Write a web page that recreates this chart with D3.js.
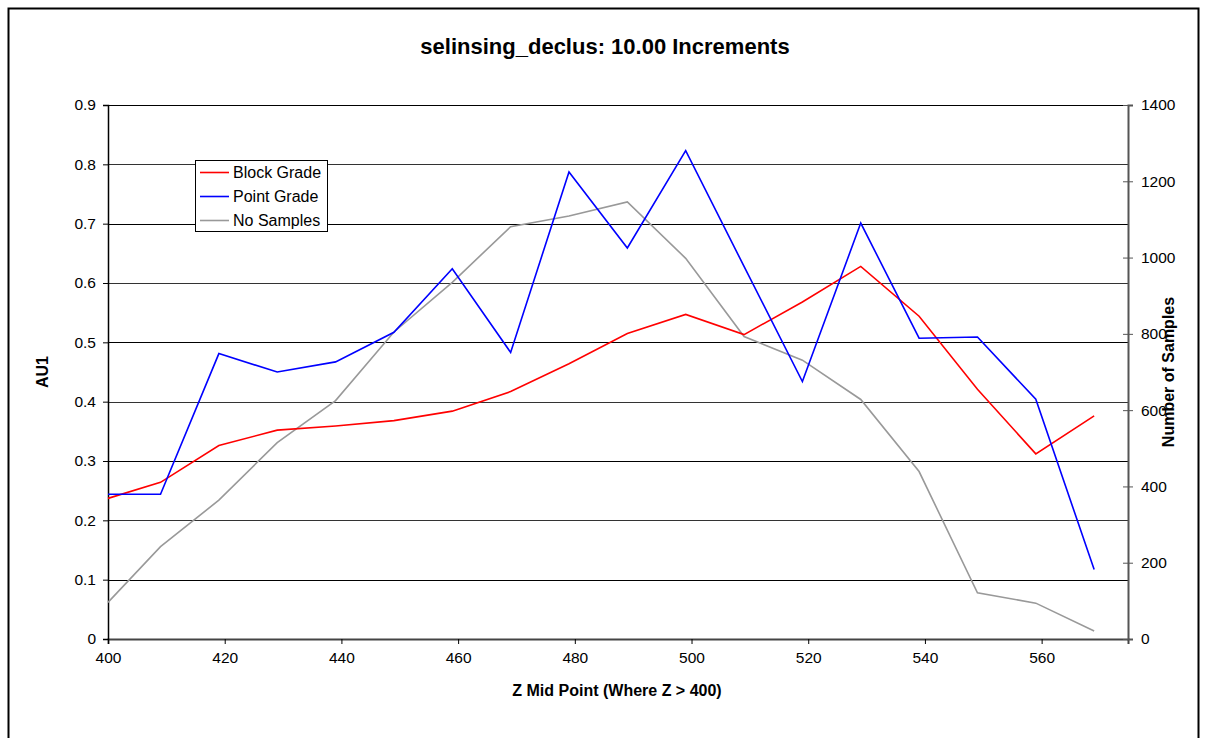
<!DOCTYPE html>
<html><head><meta charset="utf-8">
<script src="https://cdn.jsdelivr.net/npm/d3@7"></script>
<style>body{margin:0;background:#fff;font-family:Arial,"Liberation Sans",sans-serif;}</style>
</head><body>
<svg id="c" width="1207" height="738"></svg>
<script>
const zMid = [400,409,419,429,439,449,459,469,479,489,499,509,519,529,539,549,559,569];
const blockGrade = [0.237,0.264,0.326,0.352,0.359,0.368,0.384,0.417,0.464,0.515,0.547,0.513,0.568,0.628,0.544,0.421,0.312,0.376];
const pointGrade = [0.244,0.244,0.481,0.450,0.467,0.517,0.624,0.483,0.787,0.659,0.823,0.628,0.434,0.701,0.507,0.509,0.404,0.117];
const noSamples = [96,242,364,515,625,805,935,1081,1109,1146,998,793,731,628,439,121,94,21];
const xTicks = [400,420,440,460,480,500,520,540,560];
const yLeftTicks = [0,0.1,0.2,0.3,0.4,0.5,0.6,0.7,0.8,0.9];
const yRightTicks = [0,200,400,600,800,1000,1200,1400];
const seriesNames = ["Block Grade","Point Grade","No Samples"];
const seriesColors = ["#ff0000","#0000ff","#999999"];

const svg = d3.select("#c");
const L=108, R=1128, T=105, B=639;
const x = d3.scaleLinear().domain([400,574.8]).range([L,R]);
const yL = d3.scaleLinear().domain([0,0.9]).range([B,T]);
const yR = d3.scaleLinear().domain([0,1400]).range([B,T]);

// outer border
svg.append("rect").attr("x",8.5).attr("y",8.5).attr("width",1190).attr("height",760)
  .attr("fill","none").attr("stroke","#000").attr("stroke-width",2);

// title
svg.append("text").attr("x",605).attr("y",54).attr("text-anchor","middle")
  .attr("font-size",22).attr("font-weight","bold").text("selinsing_declus: 10.00 Increments");

// gridlines
svg.append("g").selectAll("line").data(yLeftTicks.slice(1)).join("line")
  .attr("x1",L).attr("x2",R).attr("y1",d=>Math.round(yL(d))+0.5).attr("y2",d=>Math.round(yL(d))+0.5)
  .attr("stroke",(d,i)=>i%2?"#333":"#000").attr("stroke-width",1);

// axes
const gx = svg.append("g").attr("transform",`translate(0,${B})`)
  .call(d3.axisBottom(x).tickValues(xTicks).tickSize(5).tickPadding(8).tickFormat(d3.format("d")));
const gl = svg.append("g").attr("transform",`translate(${L},0)`)
  .call(d3.axisLeft(yL).tickValues(yLeftTicks).tickSize(5).tickPadding(7).tickFormat(d=>d===0?"0":d3.format(".1f")(d)));
const gr = svg.append("g").attr("transform",`translate(${R},0)`)
  .call(d3.axisRight(yR).tickValues(yRightTicks).tickSize(5).tickPadding(8).tickFormat(d3.format("d")));
gr.selectAll(".tick line").attr("x1",-5);
[gx,gl,gr].forEach(g=>{
  g.selectAll("text").attr("font-size",15.5).attr("font-family","Arial,'Liberation Sans',sans-serif").attr("fill","#000");
  g.selectAll("line").attr("stroke","#000");
  g.select(".domain").attr("stroke","#000").attr("stroke-width",1.5);
});
gx.select(".domain").attr("stroke","#444").attr("stroke-width",2);
gr.select(".domain").attr("stroke","#555").attr("stroke-width",2);
gr.selectAll(".tick line").attr("stroke","#555");

// axis titles
svg.append("text").attr("x",617).attr("y",696).attr("text-anchor","middle")
  .attr("font-size",16).attr("font-weight","bold").text("Z Mid Point (Where Z > 400)");
svg.append("text").attr("transform","translate(48,372) rotate(-90)").attr("text-anchor","middle")
  .attr("font-size",16).attr("font-weight","bold").text("AU1");
svg.append("text").attr("transform","translate(1174,372) rotate(-90)").attr("text-anchor","middle")
  .attr("font-size",16).attr("font-weight","bold").text("Number of Samples");

// lines
const lineL = d3.line().x((d,i)=>x(zMid[i])).y(d=>yL(d));
const lineR = d3.line().x((d,i)=>x(zMid[i])).y(d=>yR(d));
svg.append("path").datum(noSamples).attr("d",lineR).attr("fill","none").attr("stroke",seriesColors[2]).attr("stroke-width",1.6);
svg.append("path").datum(blockGrade).attr("d",lineL).attr("fill","none").attr("stroke",seriesColors[0]).attr("stroke-width",1.6);
svg.append("path").datum(pointGrade).attr("d",lineL).attr("fill","none").attr("stroke",seriesColors[1]).attr("stroke-width",1.6);

// legend
const lg = svg.append("g");
lg.append("rect").attr("x",195.5).attr("y",160.5).attr("width",132).attr("height",71)
  .attr("fill","#fff").attr("stroke","#000").attr("stroke-width",1);
seriesNames.forEach((n,i)=>{
  const yy = 172.5 + i*24;
  lg.append("line").attr("x1",200).attr("x2",229).attr("y1",yy).attr("y2",yy)
    .attr("stroke",seriesColors[i]).attr("stroke-width",1.6);
  lg.append("text").attr("x",233).attr("y",yy+5.5).attr("font-size",16).text(n);
});
</script>
</body></html>
